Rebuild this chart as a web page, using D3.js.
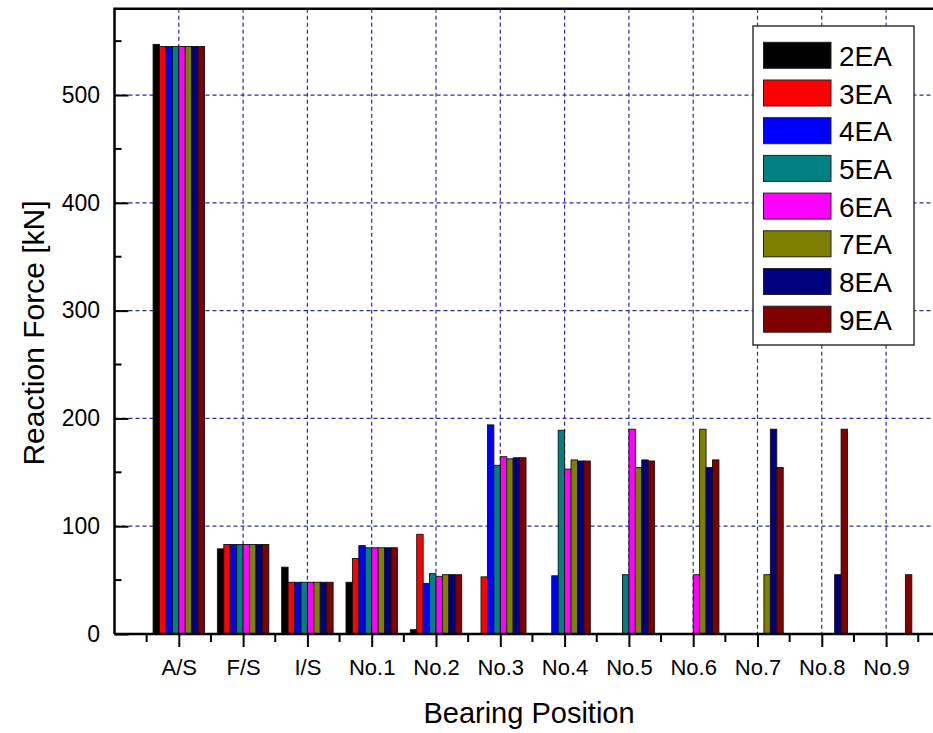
<!DOCTYPE html>
<html>
<head>
<meta charset="utf-8">
<script src="https://cdn.jsdelivr.net/npm/d3@7"></script>
<style>
  html, body { margin: 0; padding: 0; background: #fff; }
  svg { display: block; font-family: "Liberation Sans", Arial, sans-serif; }
</style>
</head>
<body>
<svg id="chart" width="933" height="733"></svg>
<script>
const categories = ["A/S", "F/S", "I/S", "No.1", "No.2", "No.3", "No.4", "No.5", "No.6", "No.7", "No.8", "No.9"];
const seriesNames = ["2EA", "3EA", "4EA", "5EA", "6EA", "7EA", "8EA", "9EA"];
const seriesColors = ["#000000", "#ff0000", "#0000ff", "#008080", "#ff00ff", "#808000", "#000080", "#800000"];
const s2EA = [547, 79, 62, 48, 4, 0, 0, 0, 0, 0, 0, 0];
const s3EA = [545, 83, 48, 70, 92.5, 53, 0, 0, 0, 0, 0, 0];
const s4EA = [545, 83, 48, 82, 47, 194, 54, 0, 0, 0, 0, 0];
const s5EA = [545, 83, 48, 80, 56, 156.5, 189, 55, 0, 0, 0, 0];
const s6EA = [545, 83, 48, 80, 53.5, 164.5, 153, 190, 55, 0, 0, 0];
const s7EA = [545, 83, 48, 80, 55, 162.5, 161.5, 154.5, 190, 55, 0, 0];
const s8EA = [545, 83, 48, 80, 55, 163.5, 160.5, 161.5, 154.5, 190, 55, 0];
const s9EA = [545, 83, 48, 80, 55, 163.5, 160.5, 160.5, 161.5, 154.5, 190, 55];
const seriesValues = [s2EA, s3EA, s4EA, s5EA, s6EA, s7EA, s8EA, s9EA];
const yTicks = [0, 100, 200, 300, 400, 500];
const yMinorTicks = [50, 150, 250, 350, 450, 550];

(function () {
const svg = d3.select("#chart");
const pLeft = 114.5, pTop = 8.8, pBottom = 634;
const step = 64.3;
const x = d3.scaleLinear().domain([-1, 12]).range([pLeft, pLeft + step * 13]);
const y = d3.scaleLinear().domain([0, 580]).range([pBottom, pTop]);
const pRight = x(12);

const groupW = step * 0.8;
const barW = groupW / seriesNames.length;

// grid
const grid = svg.append("g").attr("stroke", "#2b2ba8").attr("stroke-width", 1.2).attr("stroke-dasharray", "4,3");
grid.selectAll("line.h").data(yTicks.filter(d => d > 0)).join("line").attr("class", "h")
  .attr("x1", pLeft).attr("x2", pRight).attr("y1", d => y(d)).attr("y2", d => y(d));
grid.selectAll("line.v").data(categories).join("line").attr("class", "v")
  .attr("x1", (d, i) => x(i)).attr("x2", (d, i) => x(i)).attr("y1", pTop).attr("y2", pBottom);

// bars
const bars = [];
seriesValues.forEach((vals, s) => vals.forEach((v, i) => { if (v > 0) bars.push({s, i, v}); }));
svg.append("g").selectAll("rect").data(bars).join("rect")
  .attr("x", d => x(d.i) - groupW / 2 + d.s * barW)
  .attr("width", barW)
  .attr("y", d => y(d.v))
  .attr("height", d => pBottom - y(d.v))
  .attr("fill", d => seriesColors[d.s])
  .attr("stroke", "#111")
  .attr("stroke-width", 0.9);

// frame
svg.append("path")
  .attr("d", `M${pLeft},${pBottom} L${pLeft},${pTop} L${pRight},${pTop}`)
  .attr("fill", "none").attr("stroke", "#000").attr("stroke-width", 2.5);
svg.append("line").attr("x1", pLeft).attr("x2", pRight).attr("y1", pBottom).attr("y2", pBottom)
  .attr("stroke", "#000").attr("stroke-width", 2.5);

// y axis (inward ticks)
const yAxis = d3.axisLeft(y).tickValues(yTicks).tickSizeInner(-14).tickSizeOuter(0).tickPadding(14.5);
const gy = svg.append("g").attr("transform", `translate(${pLeft},0)`).call(yAxis);
gy.select(".domain").remove();
gy.selectAll(".tick line").attr("stroke", "#000").attr("stroke-width", 2);
gy.selectAll(".tick text").attr("font-size", 23).attr("fill", "#000").attr("font-family", "Liberation Sans, Arial, sans-serif");
svg.append("g").selectAll("line").data(yMinorTicks).join("line")
  .attr("x1", pLeft).attr("x2", pLeft + 7).attr("y1", d => y(d)).attr("y2", d => y(d))
  .attr("stroke", "#000").attr("stroke-width", 2);

// x axis (outward ticks)
const xAxis = d3.axisBottom(x).tickValues(d3.range(categories.length)).tickFormat(i => categories[i])
  .tickSizeInner(13).tickSizeOuter(0).tickPadding(12);
const gx = svg.append("g").attr("transform", `translate(0,${pBottom})`).call(xAxis);
gx.select(".domain").remove();
gx.selectAll(".tick line").attr("stroke", "#000").attr("stroke-width", 2);
gx.selectAll(".tick text").attr("font-size", 22).attr("fill", "#000").attr("font-family", "Liberation Sans, Arial, sans-serif");
svg.append("g").selectAll("line").data(d3.range(categories.length + 1).map(i => i - 0.5)).join("line")
  .attr("x1", d => x(d)).attr("x2", d => x(d)).attr("y1", pBottom).attr("y2", pBottom + 8)
  .attr("stroke", "#000").attr("stroke-width", 2);

// axis titles
svg.append("text").attr("x", 529).attr("y", 723).attr("text-anchor", "middle")
  .attr("font-size", 29).attr("fill", "#000").text("Bearing Position");
svg.append("text").attr("transform", "translate(44,333) rotate(-90)").attr("text-anchor", "middle")
  .attr("font-size", 30).attr("fill", "#000").text("Reaction Force [kN]");

// legend
const lg = svg.append("g");
lg.append("rect").attr("x", 753).attr("y", 26).attr("width", 161).attr("height", 319)
  .attr("fill", "#fff").attr("stroke", "#333").attr("stroke-width", 1.5);
const items = lg.selectAll("g.item").data(seriesNames).join("g").attr("class", "item")
  .attr("transform", (d, i) => `translate(0,${55.3 + i * 37.7})`);
items.append("rect").attr("x", 763.5).attr("y", -13).attr("width", 67.5).attr("height", 26)
  .attr("fill", (d, i) => seriesColors[i]).attr("stroke", "#222").attr("stroke-width", 1);
items.append("text").attr("x", 839).attr("y", 10.5).attr("font-size", 28).attr("fill", "#000").text(d => d);
})();
</script>
</body>
</html>
